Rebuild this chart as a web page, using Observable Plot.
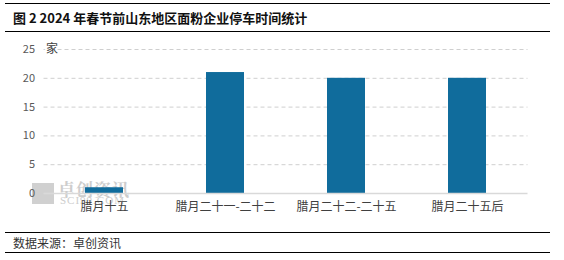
<!DOCTYPE html>
<html><head><meta charset="utf-8">
<script src="https://cdn.jsdelivr.net/npm/d3@7"></script>
<script src="https://cdn.jsdelivr.net/npm/@observablehq/plot@0.6"></script>
<style>
body{margin:0;background:#fff;font-family:"Noto Sans CJK SC",sans-serif;}
#wrap{position:relative;width:564px;height:260px;overflow:hidden;}
#title{position:absolute;left:5px;top:3px;width:545px;height:29px;border-top:1px solid #000;border-bottom:1px solid #000;font-weight:bold;font-size:13px;line-height:28px;padding-left:8px;box-sizing:border-box;color:#111;}
#foot{position:absolute;left:5px;top:232px;width:545px;height:21px;border-top:1px solid #000;border-bottom:1px solid #000;font-size:12px;line-height:20px;padding-left:8px;box-sizing:border-box;color:#333;}
#chart{position:absolute;left:0;top:35px;}
#wm{position:absolute;left:32px;top:182px;color:#cdcdcd;white-space:nowrap;}
#wm .sq{position:absolute;left:0;top:1px;width:22px;height:21px;background:#d0d0d0;}
#wm .t1{position:absolute;left:26px;top:-2px;font-size:17px;line-height:17px;letter-spacing:1px;font-weight:bold;font-family:"Noto Serif CJK SC","Noto Sans CJK SC",serif;}
#wm .t2{position:absolute;left:28px;top:13px;font-size:11px;line-height:11px;font-family:"Liberation Serif",serif;letter-spacing:1px;}
</style></head>
<body><div id="wrap">
<div id="title">图 2 2024 年春节前山东地区面粉企业停车时间统计</div>
<div id="wm"><span class="sq"></span><span class="t1">卓创资讯</span><span class="t2">SCI99.COM</span></div>
<div id="chart"></div>
<div id="foot">数据来源：卓创资讯</div>
</div>
<script>
const categories = ["腊月十五", "腊月二十一-二十二", "腊月二十二-二十五", "腊月二十五后"];
const values = [1, 21, 20, 20];
const yTicks = [0, 5, 10, 15, 20, 25];
const unitLabel = "家";

const data = categories.map((c, i) => ({cat: c, v: values[i]}));

const chart = Plot.plot({
  width: 564,
  height: 197,
  marginLeft: 43.5,
  marginRight: 36.5,
  marginTop: 14,
  marginBottom: 39,
  style: {fontFamily: '"Noto Sans CJK SC", sans-serif', background: "transparent"},
  x: {domain: categories, paddingInner: 0.69, paddingOuter: 0.345, label: null, tickSize: 0},
  y: {domain: [0, 25], ticks: yTicks, label: null, tickSize: 0},
  marks: [
    Plot.gridY(yTicks.filter(d => d > 0), {stroke: "#cfcfcf", strokeOpacity: 1, strokeDasharray: "4,3"}),
    Plot.axisY({ticks: yTicks, tickSize: 0, tickPadding: 9, label: null, fontSize: 11, fill: "#595959"}),
    Plot.axisX({tickSize: 0, tickPadding: 9, label: null, fontSize: 12, fill: "#404040"}),
    Plot.barY(data, {x: "cat", y: "v", fill: "#106c9c"}),
    Plot.ruleY([0], {stroke: "#d9d9d9", strokeWidth: 1.5}),
    Plot.text([unitLabel], {frameAnchor: "top-left", lineAnchor: "middle", textAnchor: "start", dx: 2, text: d => d, fontSize: 12, fill: "#404040", stroke: "white", strokeWidth: 4})
  ]
});
document.getElementById("chart").appendChild(chart);
</script>
</body></html>
